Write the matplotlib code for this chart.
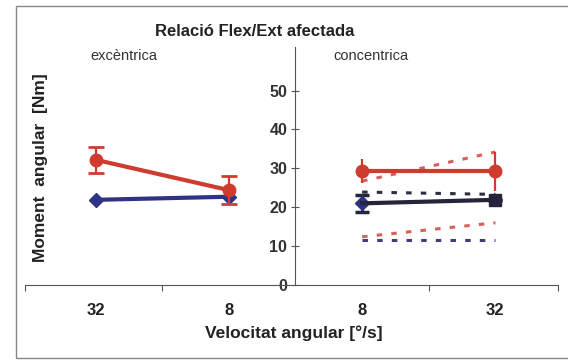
import matplotlib.pyplot as plt
from matplotlib.patches import Rectangle

plt.rcParams['font.family'] = ['Liberation Sans', 'DejaVu Sans']

# categories on the x axis (excèntrica: 32, 8 | concèntrica: 8, 32)
tick_labels = ['32', '8', '8', '32']
x_exc = [0, 1]
x_conc = [2, 3]

# excèntrica means and SD
exc_red = [32.2, 24.4]
exc_red_err = [3.4, 3.6]
exc_blue = [21.9, 22.7]

# concèntrica means and SD
conc_red = [29.3, 29.3]
conc_red_err = [3.1, 5.0]
conc_blue = [21.0, 21.9]
conc_blue_err = [2.1, 0.0]

# dotted reference lines (concèntrica)
red_hi = [26.7, 34.2]
red_lo = [12.4, 16.0]
blue_hi = [23.9, 23.3]
blue_lo = [11.6, 11.6]

RED = '#cf3b2e'
BLUE = '#2f3383'
DARK = '#24243a'

fig = plt.figure(figsize=(5.68, 3.61), dpi=100)
ax = fig.add_axes([25 / 568, 1 - 285 / 361, 533 / 568, 238 / 361])

# dotted lines
dot = (0, (1.8, 3.0))
ax.plot(x_conc, red_hi, color='#d9605a', lw=2.2, ls=dot)
ax.plot(x_conc, red_lo, color='#d9605a', lw=2.2, ls=dot)
ax.plot(x_conc, blue_hi, color='#2c2c44', lw=2.2, ls=dot)
ax.plot(x_conc, blue_lo, color='#3b3f7c', lw=2.2, ls=dot)

# excèntrica
ax.plot(x_exc, exc_blue, color=BLUE, lw=3, marker='D', ms=7, zorder=3)
ax.errorbar(x_exc, exc_red, yerr=exc_red_err, color=RED, lw=3, marker='o',
            ms=9, capsize=6, capthick=2, elinewidth=1.6, zorder=4)

# concèntrica
ax.errorbar(x_conc, conc_blue, yerr=conc_blue_err, color=DARK, lw=3,
            marker='None', capsize=5, capthick=2.5, elinewidth=2, zorder=3)
ax.plot(x_conc[0], conc_blue[0], color=BLUE, marker='D', ms=7, zorder=3)
ax.plot(x_conc[1], conc_blue[1], color=DARK, marker='s', ms=8, zorder=3)
ax.errorbar(x_conc, conc_red, yerr=conc_red_err, color=RED, lw=3, marker='o',
            ms=9, capsize=0, elinewidth=1.6, zorder=4)

ax.set_xlim(-0.53, 3.47)
ax.set_ylim(0, 61.2)

for s in ['top', 'right']:
    ax.spines[s].set_visible(False)
ax.spines['left'].set_position(('data', 1.5))
ax.spines['left'].set_color('#555555')
ax.spines['bottom'].set_color('#555555')

ax.set_yticks([0, 10, 20, 30, 40, 50])
ax.tick_params(axis='y', direction='inout', length=6, width=0.8,
               color='#555555', pad=3, labelsize=11.5)
for t in ax.get_yticklabels():
    t.set_fontweight('bold')
    t.set_color('#333333')

ax.set_xticks(range(4))
ax.set_xticklabels(tick_labels, fontweight='bold', fontsize=12,
                   color='#222222')
ax.tick_params(axis='x', length=0, pad=13)
ax.set_xticks([-0.53, 0.5, 2.5, 3.47], minor=True)
ax.tick_params(axis='x', which='minor', direction='out', length=4,
               width=0.8, color='#555555')

fig.text(255 / 568, 1 - 32 / 361, 'Relació Flex/Ext afectada',
         ha='center', va='center', fontsize=12, fontweight='bold',
         color='#222222')
fig.text(124 / 568, 1 - 56 / 361, 'excèntrica', ha='center', va='center',
         fontsize=10.5, color='#333333')
fig.text(371 / 568, 1 - 56 / 361, 'concentrica', ha='center', va='center',
         fontsize=10.5, color='#333333')
fig.text(41 / 568, 1 - 168 / 361, 'Moment  angular  [Nm]', rotation=90,
         ha='center', va='center', fontsize=12.5, fontweight='bold',
         color='#222222')
fig.text(294 / 568, 1 - 333 / 361, 'Velocitat angular [°/s]',
         ha='center', va='center', fontsize=12.5, fontweight='bold',
         color='#222222')

# outer frame
fig.patches.append(Rectangle((16 / 568, 3 / 361), 1.0, 352 / 361,
                             transform=fig.transFigure, fill=False,
                             lw=1, ec='#888888'))

fig.savefig('out.png', dpi=100)
